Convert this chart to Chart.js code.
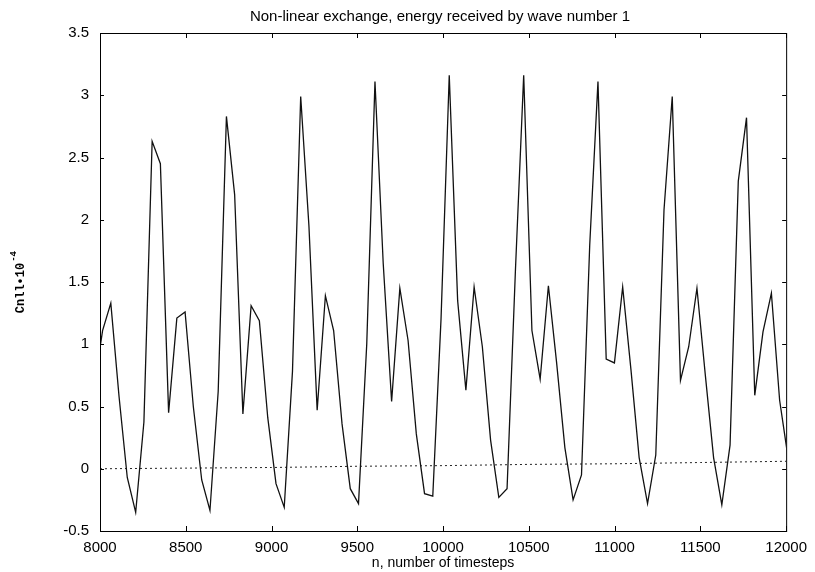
<!DOCTYPE html>
<html>
<head>
<meta charset="utf-8">
<script src="https://cdn.jsdelivr.net/npm/chart.js@4.4.1/dist/chart.umd.min.js"></script>
<style>
  html, body { margin: 0; padding: 0; background: #fff; }
  #wrap { width: 815px; height: 572px; }
</style>
</head>
<body>
<div id="wrap"><canvas id="chart" width="815" height="572"></canvas></div>
<script>
// values
const chartTitle = 'Non-linear exchange, energy received by wave number 1';
const xTitle = 'n, number of timesteps';
const yTitleMain = 'Cnll\u202210';
const yTitleSup = '-4';

const timesteps = [
  8000, 8015, 8063, 8111, 8159, 8208, 8256, 8304, 8352, 8400, 8448, 8496, 8544,
  8593, 8641, 8689, 8737, 8785, 8833, 8881, 8929, 8978, 9026, 9074, 9122, 9170,
  9218, 9266, 9314, 9362, 9411, 9459, 9507, 9555, 9603, 9651, 9700, 9748, 9796,
  9844, 9892, 9940, 9988, 10036, 10085, 10133, 10181, 10229, 10277, 10325, 10373,
  10422, 10470, 10518, 10566, 10614, 10662, 10710, 10758, 10807, 10855, 10903,
  10951, 10999, 11047, 11095, 11143, 11192, 11240, 11288, 11336, 11384, 11432,
  11480, 11529, 11577, 11625, 11673, 11721, 11769, 11817, 11865, 11914, 11962, 12010
];
const energy = [
  0.97, 1.11, 1.33, 0.58, -0.07, -0.35, 0.375, 2.63, 2.45, 0.45, 1.21, 1.26, 0.5,
  -0.09, -0.335, 0.62, 2.83, 2.2, 0.44, 1.31, 1.19, 0.41, -0.12, -0.31, 0.78, 2.99,
  1.95, 0.47, 1.39, 1.11, 0.36, -0.16, -0.28, 1.0, 3.11, 1.65, 0.54, 1.45, 1.03,
  0.28, -0.2, -0.22, 1.2, 3.16, 1.35, 0.63, 1.46, 0.98, 0.23, -0.23, -0.16,
  1.6, 3.16, 1.11, 0.72, 1.47, 0.85, 0.17, -0.25, -0.05, 1.8, 3.11,
  0.88, 0.85, 1.46, 0.8, 0.09, -0.28, 0.11, 2.08, 2.99, 0.71, 0.98,
  1.45, 0.75, 0.09, -0.29, 0.19, 2.31, 2.82, 0.59, 1.10, 1.41, 0.55, 0.10
];
const driftSteps = [8000, 8500, 9000, 9500, 10000, 10500, 11000, 11500, 12000];
const driftValues = [0, 0.005, 0.01, 0.02, 0.025, 0.035, 0.04, 0.05, 0.06];

const xTicks = [8000, 8500, 9000, 9500, 10000, 10500, 11000, 11500, 12000];
const yTicks = [-0.5, 0, 0.5, 1, 1.5, 2, 2.5, 3, 3.5];

const tickFont = { family: '"Liberation Sans", Arial, sans-serif', size: 15 };

// frame with inward ticks, title and the y label with its exponent
const framePlugin = {
  id: 'frame',
  afterDraw(chart) {
    const { ctx, chartArea: a, scales: { x, y } } = chart;
    ctx.save();
    ctx.strokeStyle = '#000';
    ctx.lineWidth = 1;
    ctx.strokeRect(a.left + 0.5, a.top + 0.5, a.right - a.left, a.bottom - a.top);
    ctx.beginPath();
    x.ticks.forEach(t => {
      const px = Math.round(x.getPixelForValue(t.value)) + 0.5;
      ctx.moveTo(px, a.bottom); ctx.lineTo(px, a.bottom - 5);
      ctx.moveTo(px, a.top); ctx.lineTo(px, a.top + 5);
    });
    y.ticks.forEach(t => {
      const py = Math.round(y.getPixelForValue(t.value)) + 0.5;
      ctx.moveTo(a.left, py); ctx.lineTo(a.left + 4, py);
      ctx.moveTo(a.right, py); ctx.lineTo(a.right - 4, py);
    });
    ctx.stroke();

    ctx.fillStyle = '#000';
    ctx.font = '15px "Liberation Sans", Arial, sans-serif';
    ctx.textAlign = 'center';
    ctx.textBaseline = 'alphabetic';
    ctx.fillText(chartTitle, 440, 21);

    ctx.translate(21, 288);
    ctx.rotate(-Math.PI / 2);
    ctx.font = 'bold 12px "Liberation Mono", "DejaVu Sans Mono", monospace';
    ctx.textBaseline = 'middle';
    const w = ctx.measureText(yTitleMain).width;
    ctx.fillText(yTitleMain, 0, 0);
    ctx.font = 'bold 9px "Liberation Mono", "DejaVu Sans Mono", monospace';
    ctx.textAlign = 'left';
    ctx.fillText(yTitleSup, w / 2 + 1, -7);
    ctx.restore();
  }
};

new Chart(document.getElementById('chart'), {
  type: 'line',
  data: {
    datasets: [
      {
        data: timesteps.map((n, i) => ({ x: n, y: energy[i] })),
        borderColor: '#111',
        borderWidth: 1.3,
        pointRadius: 0,
        tension: 0
      },
      {
        data: driftSteps.map((n, i) => ({ x: n, y: driftValues[i] })),
        borderColor: '#222',
        borderWidth: 1,
        borderDash: [2, 3],
        pointRadius: 0,
        tension: 0
      }
    ]
  },
  options: {
    responsive: false,
    animation: false,
    events: [],
    layout: { padding: { top: 33, right: 27, left: 0, bottom: 0 } },
    plugins: { legend: { display: false }, title: { display: false }, tooltip: { enabled: false } },
    scales: {
      x: {
        type: 'linear',
        min: 8000,
        max: 12000,
        afterFit: s => { s.height = 41; },
        afterBuildTicks: s => { s.ticks = xTicks.map(v => ({ value: v })); },
        grid: { display: false, drawTicks: false },
        border: { display: false },
        ticks: { font: tickFont, color: '#000', padding: 8, maxRotation: 0, callback: v => String(v) },
        title: {
          display: true,
          text: xTitle,
          color: '#000',
          font: { family: '"Liberation Sans", Arial, sans-serif', size: 14 },
          padding: 0
        }
      },
      y: {
        min: -0.5,
        max: 3.5,
        afterFit: s => { s.width = 100; },
        afterBuildTicks: s => { s.ticks = yTicks.map(v => ({ value: v })); },
        grid: { display: false, drawTicks: false },
        border: { display: false },
        ticks: { font: tickFont, color: '#000', padding: 11, callback: v => String(v) }
      }
    }
  },
  plugins: [framePlugin]
});
</script>
</body>
</html>
